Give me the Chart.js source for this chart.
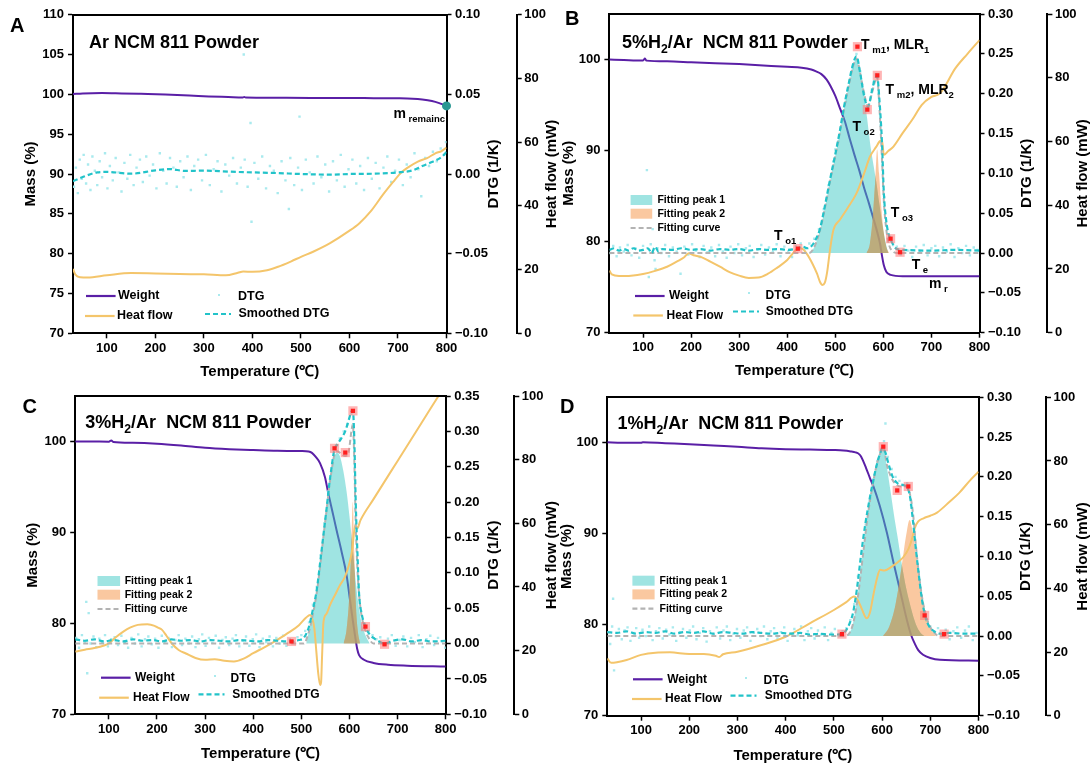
<!DOCTYPE html>
<html lang="en">
<head>
<meta charset="utf-8">
<title>TG / DTG / heat flow of NCM 811 powder</title>
<script src="https://cdn.jsdelivr.net/npm/chart.js@4.4.1/dist/chart.umd.min.js"></script>
<style>
  html, body { margin: 0; padding: 0; background: #fff; }
  #sheet { position: relative; width: 1092px; height: 767px; overflow: hidden; }
  #sheet canvas { position: absolute; }
</style>
</head>
<body>
<div id="sheet">
  <canvas id="cA" width="600" height="380" style="left:0;top:0"></canvas>
  <canvas id="cC" width="600" height="387" style="left:0;top:380px"></canvas>
  <canvas id="cB" width="546" height="380" style="left:546px;top:0"></canvas>
  <canvas id="cD" width="546" height="387" style="left:546px;top:380px"></canvas>
</div>
<script>
// ---- axis ticks ----
const TEMP_TICKS = [100, 200, 300, 400, 500, 600, 700, 800];
const HEAT_TICKS = [0, 20, 40, 60, 80, 100];
const MASS_TICKS_AR = [70, 75, 80, 85, 90, 95, 100, 105, 110];
const MASS_TICKS_H2 = [70, 80, 90, 100];
const DTG_TICKS_AR = [-0.1, -0.05, 0, 0.05, 0.1];
const DTG_TICKS_030 = [-0.1, -0.05, 0, 0.05, 0.1, 0.15, 0.2, 0.25, 0.3];
const DTG_TICKS_035 = [-0.1, -0.05, 0, 0.05, 0.1, 0.15, 0.2, 0.25, 0.3, 0.35];

// ---- A: Ar atmosphere  [temperature, value] ----
const weightA = [[30,100.05],[50,100.12],[90,100.17],[130,100.12],[170,100.06],[220,99.98],[270,99.86],[310,99.74],[350,99.66],[380,99.6],[383,99.68],[386,99.6],[420,99.58],[470,99.56],[520,99.55],[597,99.55],[650,99.52],[700,99.5],[730,99.45],[750,99.35],[770,99.16],[785,98.9],[800,98.55]];
const heatA = [[30,20.2],[35,18.4],[45,17.6],[60,17.5],[100,18.2],[150,18.9],[200,18.8],[250,18.6],[300,18.5],[345,18.2],[370,19],[381,19.4],[400,19.3],[430,19.8],[453,20.9],[480,22.6],[500,24],[525,25.6],[560,28.3],[597,31.9],[620,34.5],[645,38.5],[669,43.5],[690,47.5],[705,50.2],[720,52],[741,53.9],[760,55],[777,56.5],[790,57.2],[800,58.3]];
const dtgSmoothA = [[30,-0.0046],[50,-0.0019],[80,0.001],[100,0.0013],[150,0.0002],[200,0.0023],[230,0.0031],[260,0.0019],[300,0.0021],[350,0.0015],[400,0.001],[450,0.0006],[500,0],[560,-0.0004],[600,0],[650,0.0002],[700,0.001],[730,0.0023],[750,0.005],[770,0.0075],[790,0.0107],[800,0.0138]];
const dtgRawA = [[32,-0.008],[36,0.004],[40,-0.012],[44,0.009],[48,-0.003],[52,0.012],[57,-0.006],[61,0.006],[66,-0.01],[70,0.011],[75,0.002],[80,-0.007],[85,0.008],[90,-0.002],[96,0.013],[101,-0.009],[106,0.005],[112,-0.004],[118,0.01],[124,0.001],[130,-0.011],[136,0.007],[142,-0.003],[148,0.012],[155,-0.007],[161,0.004],[168,0.009],[174,-0.005],[181,0.011],[188,-0.001],[195,0.006],[202,-0.009],[209,0.013],[216,0.002],[223,-0.006],[230,0.01],[237,0.004],[244,-0.008],[251,0.008],[258,-0.002],[266,0.011],[273,-0.01],[280,0.005],[288,0.009],[296,-0.004],[304,0.012],[312,-0.007],[320,0.003],[328,0.008],[336,-0.011],[344,0.006],[352,-0.001],[360,0.01],[368,-0.006],[376,0.004],[382,0.075],[384,0.009],[390,-0.008],[396,0.032],[398,-0.03],[404,0.007],[412,-0.003],[420,0.011],[428,-0.009],[436,0.005],[444,0.002],[452,-0.012],[460,0.008],[468,-0.004],[475,-0.022],[478,0.01],[486,-0.007],[494,0.004],[497,0.036],[502,-0.01],[510,0.009],[518,0.001],[526,-0.006],[534,0.011],[542,-0.002],[550,0.006],[558,-0.011],[566,0.008],[574,-0.004],[582,0.012],[590,-0.008],[598,0.003],[606,0.009],[614,-0.006],[622,0.005],[630,-0.01],[638,0.01],[646,-0.003],[654,0.007],[662,-0.009],[670,0.004],[678,0.011],[686,-0.005],[694,0.002],[702,0.009],[710,-0.007],[718,0.006],[726,-0.002],[734,0.013],[742,0.003],[748,-0.014],[756,0.01],[764,0.005],[772,0.014],[780,0.008],[788,0.016],[795,0.012],[799,0.02]];
const remainA = [[800,98.55]];

// ---- B: 5% H2/Ar ----
const weightB = [[30,100],[60,99.95],[100,99.9],[104,100.1],[107,99.88],[150,99.8],[200,99.7],[250,99.6],[300,99.5],[350,99.35],[400,99.2],[430,99.1],[450,98.9],[460,98.7],[471,98.4],[482,97.8],[490,97.1],[500,96],[510,94.6],[520,93.2],[530,91.3],[540,89.5],[550,87.8],[560,85.9],[570,84.2],[580,82.4],[588,80.9],[593,79.8],[597,78.5],[601,77.4],[606,76.7],[615,76.35],[640,76.2],[700,76.2],[800,76.2]];
const heatB = [[30,19.5],[35,18.3],[50,17.8],[75,17.9],[100,18.4],[125,19.4],[150,20.7],[170,22.3],[185,23.6],[195,24.9],[205,24.3],[220,23.8],[240,22.3],[260,20.7],[280,19],[300,17.9],[320,17.2],[340,17.3],[360,18.5],[380,20.5],[400,22.8],[410,24.6],[420,26.2],[430,26.4],[440,24.9],[452,21.8],[462,18.5],[468,16],[473,15],[478,15.6],[483,19],[489,26],[496,32.2],[510,35.5],[525,39],[544,43.7],[560,50],[572,55.2],[585,58.3],[592,60],[597,60.5],[601,55.8],[610,57],[621,58.4],[640,62.6],[660,66.8],[680,71.5],[700,74],[718,75.1],[750,83],[775,87.5],[800,91.8]];
const dtgSmoothB = [[30,0.004],[40,0.006],[50,0.003],[60,0.005],[70,0.003],[80,0.006],[90,0.003],[100,0.004],[110,0.006],[118,0.0],[125,0.008],[132,0.002],[140,0.005],[160,0.004],[180,0.006],[200,0.004],[220,0.005],[240,0.003],[260,0.005],[280,0.004],[300,0.005],[320,0.003],[340,0.005],[360,0.004],[380,0.005],[400,0.004],[415,0.005],[422,0.006],[432,0.008],[442,0.006],[451,0.009],[460,0.018],[468,0.03],[478,0.058],[489,0.092],[500,0.124],[510,0.155],[518,0.183],[527,0.21],[536,0.235],[544,0.247],[552,0.225],[560,0.197],[568,0.183],[576,0.203],[582,0.218],[587,0.222],[592,0.19],[597,0.14],[601,0.075],[606,0.04],[610,0.026],[615,0.017],[622,0.009],[628,0.005],[640,0.004],[700,0.003],[750,0.004],[800,0.003]];
const dtgRawB = [[32,0.0],[38,0.009],[45,-0.004],[52,0.007],[60,0.002],[68,0.01],[76,-0.003],[84,0.006],[92,-0.006],[100,0.009],[108,0.104],[112,-0.03],[116,0.011],[120,0.03],[124,-0.009],[126,-0.02],[130,0.006],[138,0.0],[146,0.01],[154,-0.004],[162,0.007],[170,0.002],[178,-0.026],[186,0.008],[194,-0.002],[202,0.011],[210,0.003],[218,-0.005],[226,0.009],[234,0.001],[242,0.007],[250,-0.004],[258,0.01],[266,0.002],[274,-0.006],[282,0.008],[290,0.0],[298,0.011],[306,-0.003],[314,0.006],[322,0.009],[330,-0.005],[338,0.004],[346,0.01],[354,-0.002],[362,0.007],[370,0.001],[378,0.011],[386,-0.004],[394,0.008],[402,0.002],[410,-0.005],[418,0.009],[428,0.012],[436,0.004],[446,0.012],[456,0.018],[466,0.03],[476,0.055],[486,0.085],[496,0.115],[500,0.13],[506,0.14],[516,0.175],[522,0.19],[526,0.205],[536,0.232],[544,0.25],[548,0.26],[552,0.228],[560,0.2],[568,0.185],[576,0.205],[580,0.215],[584,0.224],[590,0.2],[594,0.16],[598,0.11],[602,0.07],[606,0.035],[612,0.02],[620,0.01],[628,0.008],[636,-0.002],[644,0.009],[652,0.003],[660,-0.005],[668,0.008],[676,0.001],[684,0.01],[692,-0.003],[700,0.006],[708,0.009],[716,-0.004],[724,0.007],[732,0.002],[740,0.011],[748,-0.005],[756,0.006],[764,0.0],[772,0.009],[780,-0.003],[788,0.007],[796,0.004]];
const peak1B = [[448,0],[455,0.006],[468,0.028],[478,0.055],[489,0.09],[500,0.122],[510,0.153],[518,0.18],[527,0.207],[536,0.232],[543,0.243],[550,0.232],[558,0.205],[566,0.17],[573,0.135],[579,0.112],[585,0.09],[592,0.06],[598,0.035],[604,0.015],[610,0]];
const peak2B = [[565,0],[572,0.012],[578,0.045],[583,0.09],[587,0.13],[591,0.1],[596,0.055],[601,0.025],[606,0.008],[612,0]];
const fitB = [[30,0],[445,0],[455,0.006],[468,0.028],[478,0.055],[489,0.09],[500,0.122],[510,0.153],[518,0.18],[527,0.207],[536,0.232],[544,0.244],[552,0.225],[560,0.2],[568,0.185],[576,0.2],[582,0.214],[587,0.22],[592,0.18],[597,0.12],[601,0.065],[606,0.03],[612,0.01],[620,0.002],[630,0],[800,0]];
const markB = [[422,0.0055],[546,0.259],[566.6,0.18],[587.4,0.223],[615,0.018],[634.7,0.001]];

// ---- C: 3% H2/Ar ----
const weightC = [[30,100],[60,100],[100,99.98],[105,100.12],[109,99.95],[150,99.85],[200,99.75],[250,99.55],[300,99.3],[350,99.15],[400,99.05],[450,98.97],[500,98.95],[515,98.9],[522,98.75],[530,98.3],[539,97.6],[549,96.1],[556,94.3],[565,92.2],[573,90.3],[584,87.8],[594,85.3],[601,82.6],[607,80.3],[612,78.5],[616,77.2],[620,76.5],[630,76],[650,75.65],[680,75.45],[720,75.35],[800,75.25]];
const heatC = [[30,19.7],[50,20.3],[70,20.8],[90,21.6],[100,22.3],[115,24.3],[130,26],[145,27.3],[160,28.1],[180,28.3],[195,27.8],[202,27.2],[210,26.6],[220,24.6],[230,22.4],[245,20.2],[260,19.1],[280,17.7],[300,17.1],[320,17.3],[340,16.8],[360,16.6],[380,17.5],[400,19.2],[425,21.2],[450,23.4],[475,25.8],[495,28],[510,30.4],[518,31.2],[522,30.4],[527,27],[531,20],[535,13],[539,9.2],[541,10],[543,18],[546,29],[552,31.5],[560,34.5],[570,37.5],[580,40.5],[591,43.3],[600,47.5],[606,52],[612,59.5],[616,58.4],[623,61],[650,67.6],[700,79.6],[750,91.6],[785,100],[800,103.6]];
const dtgSmoothC = [[30,0.006],[50,0.004],[70,0.006],[90,0.003],[110,0.005],[130,0.003],[150,0.006],[170,0.004],[190,0.005],[210,0.003],[230,0.006],[250,0.004],[270,0.005],[290,0.003],[310,0.005],[330,0.004],[350,0.003],[370,0.005],[390,0.004],[410,0.003],[430,0.005],[450,0.004],[470,0.003],[480,0.003],[495,0.005],[505,0.008],[515,0.022],[522,0.042],[532,0.076],[540,0.12],[547,0.16],[553,0.194],[558,0.225],[563,0.25],[568,0.272],[575,0.282],[583,0.29],[591,0.3],[598,0.315],[604,0.328],[607,0.33],[610,0.29],[613,0.2],[617,0.12],[620,0.07],[626,0.04],[633,0.024],[642,0.013],[652,0.007],[662,0.003],[673,0.0],[690,0.004],[710,0.006],[730,0.003],[750,0.005],[770,0.003],[800,0.004]];
const dtgRawC = [[32,0.008],[38,-0.006],[44,0.012],[50,0.002],[53,0.059],[55,-0.042],[58,0.043],[62,0.0],[68,0.01],[74,-0.005],[80,0.007],[86,0.001],[92,0.012],[98,-0.004],[105,0.006],[112,0.009],[119,-0.002],[126,0.011],[133,0.003],[140,-0.006],[147,0.008],[154,0.0],[161,0.013],[168,-0.004],[175,0.006],[182,0.01],[189,-0.001],[196,0.007],[203,-0.006],[210,0.011],[217,0.002],[224,0.008],[231,-0.005],[238,0.005],[245,0.012],[252,-0.002],[259,0.007],[266,0.0],[273,0.01],[280,-0.005],[287,0.006],[294,0.013],[301,-0.003],[308,0.008],[315,0.001],[322,0.011],[329,-0.006],[336,0.005],[343,0.009],[350,-0.002],[357,0.007],[364,0.012],[371,-0.004],[378,0.004],[385,0.01],[392,-0.003],[399,0.006],[406,0.013],[413,-0.005],[420,0.007],[427,0.002],[434,0.01],[441,-0.004],[448,0.008],[455,0.0],[462,0.011],[469,-0.003],[476,0.006],[484,0.002],[492,0.009],[500,0.012],[508,0.018],[516,0.03],[524,0.055],[532,0.08],[540,0.125],[548,0.17],[556,0.215],[564,0.255],[572,0.28],[580,0.29],[588,0.3],[596,0.31],[604,0.325],[612,0.19],[618,0.08],[624,0.045],[632,0.028],[640,0.018],[648,0.012],[656,0.006],[664,0.009],[672,-0.002],[680,0.007],[688,0.012],[696,-0.003],[704,0.005],[712,0.01],[720,-0.004],[728,0.008],[736,0.002],[744,0.012],[752,-0.005],[760,0.006],[768,0.011],[776,-0.002],[784,0.008],[792,0.003],[799,-0.006]];
const peak1C = [[510,0],[515,0.015],[522,0.035],[532,0.072],[540,0.115],[547,0.158],[553,0.192],[558,0.222],[563,0.245],[568,0.262],[574,0.27],[580,0.265],[587,0.245],[594,0.215],[600,0.18],[606,0.14],[612,0.095],[618,0.058],[625,0.03],[633,0.012],[642,0]];
const peak2C = [[588,0],[594,0.02],[599,0.06],[603,0.12],[607,0.2],[610,0.13],[613,0.06],[617,0.02],[622,0]];
const fitC = [[30,0],[505,0],[515,0.015],[522,0.035],[532,0.072],[540,0.115],[547,0.158],[553,0.192],[558,0.222],[563,0.245],[568,0.265],[575,0.272],[583,0.268],[591,0.265],[598,0.27],[604,0.3],[607,0.31],[610,0.26],[613,0.17],[617,0.1],[622,0.055],[630,0.025],[640,0.008],[650,0],[800,0]];
const markC = [[479.5,0.003],[569,0.276],[591.3,0.27],[607.2,0.329],[633.2,0.024],[672.9,-0.001]];

// ---- D: 1% H2/Ar ----
const weightD = [[30,100.05],[60,100],[100,100],[104,100.05],[150,99.95],[200,99.85],[250,99.7],[300,99.56],[350,99.4],[400,99.3],[450,99.25],[500,99.2],[520,99.15],[535,99.05],[545,98.95],[550,98.85],[555,98.6],[560,98.1],[567,97.2],[575,96.1],[582,95.2],[595,93.1],[610,90.1],[624,86.75],[638,83.6],[652,80.4],[660,78.9],[668,77.9],[675,77.2],[685,76.7],[700,76.35],[720,76.15],[800,76.05]];
const heatD = [[30,18],[38,16.6],[50,16.8],[70,17.5],[100,19.1],[130,19.8],[160,19.9],[200,19.4],[230,19.4],[255,18.8],[262,18.4],[270,19.3],[300,20.1],[350,22.2],[400,24.8],[450,29],[500,33.2],[525,35.6],[542,37.4],[550,36.2],[558,33.5],[568,30.6],[575,32.5],[582,38],[590,43.5],[596,45.8],[605,45.6],[620,46.8],[635,48.5],[645,50],[655,52.5],[662,55.5],[668,59],[675,61],[686,62],[700,62.8],[714,63.8],[740,67.2],[760,70],[783,74],[800,76.6]];
const dtgSmoothD = [[30,0.005],[50,0.004],[70,0.006],[90,0.003],[110,0.005],[130,0.004],[150,0.006],[170,0.003],[190,0.005],[210,0.004],[230,0.006],[250,0.003],[270,0.005],[290,0.004],[310,0.003],[330,0.005],[350,0.004],[370,0.003],[390,0.004],[410,0.003],[430,0.004],[450,0.002],[470,0.003],[490,0.002],[505,0.002],[516,0.0025],[525,0.007],[532,0.015],[540,0.03],[548,0.06],[556,0.1],[565,0.14],[575,0.175],[585,0.205],[594,0.226],[601,0.236],[606,0.232],[614,0.215],[622,0.2],[632,0.192],[642,0.19],[652,0.187],[658,0.175],[664,0.145],[670,0.11],[676,0.078],[683,0.045],[690,0.024],[698,0.012],[708,0.006],[720,0.003],[740,0.004],[770,0.003],[800,0.003]];
const dtgRawD = [[32,0.005],[36,-0.01],[40,0.012],[42,0.047],[44,-0.043],[48,0.0],[54,0.009],[60,-0.004],[66,0.007],[72,0.011],[78,-0.006],[84,0.004],[90,0.01],[96,-0.002],[103,0.008],[110,0.0],[117,0.012],[124,-0.005],[131,0.006],[138,0.01],[145,-0.003],[152,0.008],[159,0.002],[166,0.011],[173,-0.006],[180,0.005],[187,0.009],[194,-0.002],[201,0.007],[208,0.012],[215,-0.004],[222,0.004],[229,0.01],[236,-0.007],[243,0.006],[250,0.001],[257,0.011],[264,-0.003],[271,0.007],[278,0.012],[285,-0.005],[292,0.003],[299,0.009],[306,-0.002],[313,0.007],[320,0.011],[327,-0.006],[334,0.004],[341,0.009],[348,0.0],[355,0.012],[362,-0.004],[369,0.006],[376,0.01],[383,-0.003],[390,0.005],[397,0.011],[404,-0.006],[411,0.003],[418,0.009],[425,0.001],[432,0.012],[439,-0.005],[446,0.006],[453,0.01],[460,-0.003],[467,0.007],[474,0.002],[481,0.011],[488,-0.005],[495,0.004],[502,0.009],[510,0.0],[518,0.006],[526,0.01],[534,0.02],[542,0.04],[550,0.075],[558,0.105],[566,0.14],[574,0.17],[582,0.195],[590,0.22],[598,0.235],[604,0.245],[607,0.267],[612,0.225],[620,0.21],[628,0.2],[636,0.195],[644,0.19],[652,0.192],[660,0.165],[668,0.12],[676,0.08],[684,0.042],[692,0.02],[700,0.012],[708,0.006],[716,0.01],[724,0.001],[732,0.008],[740,-0.004],[748,0.006],[756,0.011],[764,-0.002],[772,0.007],[780,0.012],[788,-0.005],[796,0.004]];
const peak1D = [[528,0],[538,0.012],[548,0.045],[558,0.095],[568,0.145],[578,0.185],[588,0.215],[596,0.23],[603,0.235],[610,0.212],[618,0.18],[624,0.155],[632,0.125],[641,0.09],[650,0.06],[660,0.035],[670,0.015],[680,0.004],[688,0]];
const peak2D = [[602,0],[615,0.012],[628,0.04],[640,0.085],[650,0.127],[657,0.146],[664,0.13],[672,0.095],[682,0.055],[692,0.025],[702,0.008],[712,0]];
const fitD = [[30,0],[520,0],[530,0.002],[540,0.016],[550,0.05],[560,0.1],[570,0.15],[580,0.188],[590,0.218],[598,0.232],[603,0.236],[610,0.215],[620,0.198],[630,0.19],[642,0.188],[652,0.188],[658,0.178],[664,0.155],[670,0.115],[676,0.08],[684,0.045],[692,0.024],[702,0.009],[712,0.002],[720,0],[800,0]];
const markD = [[516.7,0.0025],[602.5,0.238],[631.4,0.183],[654.4,0.188],[688.3,0.026],[728.7,0.0025]];

// ---- styling ----
const FAMILY = '"Liberation Sans", Arial, Helvetica, sans-serif';
const WEIGHT = '#5a1fa6';
const HEAT = '#f4c56b';
const SMOOTH = '#22c3c9';
const DOT = '#a9eaee';
const FIT = '#b3b3b3';
const PEAK1 = 'rgba(60,200,196,0.49)';
const PEAK2 = 'rgba(245,145,65,0.5)';
const OVERLAP = 'rgba(178,162,112,0.6)';
const TEAL = '#2a9893';

const font = size => 'bold ' + size + 'px ' + FAMILY;
const xy = pairs => pairs.map(([x, y]) => ({ x, y }));
const dtgLabel = v => (v < 0 ? '\u2212' : '') + Math.abs(v).toFixed(2);

// draws text made of normal and subscript pieces, returns its width
function richText(ctx, x, y, parts, size) {
  let cx = x;
  ctx.textAlign = 'left';
  ctx.textBaseline = 'alphabetic';
  for (const [txt, kind] of parts) {
    const sub = kind === 'sub';
    ctx.font = font(sub ? size * 0.68 : size);
    ctx.fillText(txt, cx, sub ? y + size * 0.28 : y);
    cx += ctx.measureText(txt).width;
  }
  return cx - x;
}

function vTitle(ctx, text, x, y, size) {
  ctx.save();
  ctx.translate(x, y);
  ctx.rotate(-Math.PI / 2);
  ctx.font = font(size);
  ctx.textAlign = 'center';
  ctx.textBaseline = 'middle';
  ctx.fillText(text, 0, 0);
  ctx.restore();
}

function drawLegend(ctx, items) {
  for (const it of items) {
    ctx.save();
    if (it.kind === 'line' || it.kind === 'dash' || it.kind === 'gray') {
      ctx.strokeStyle = it.color;
      ctx.lineWidth = 2.2;
      ctx.setLineDash(it.kind === 'line' ? [] : [5, 3]);
      ctx.beginPath();
      ctx.moveTo(it.x, it.y);
      ctx.lineTo(it.x + it.w, it.y);
      ctx.stroke();
    } else if (it.kind === 'box') {
      ctx.fillStyle = it.color;
      ctx.fillRect(it.x, it.y - 5, it.w, 10);
    } else if (it.kind === 'dot') {
      ctx.fillStyle = DOT;
      ctx.fillRect(it.x - 1, it.y - 1, 2, 2);
    }
    ctx.restore();
    ctx.fillStyle = '#000';
    ctx.font = font(it.size);
    ctx.textAlign = 'left';
    ctx.textBaseline = 'middle';
    ctx.fillText(it.label, it.tx, it.ty !== undefined ? it.ty : it.y);
  }
}

// bottom legend block (Weight / Heat flow / DTG / Smoothed DTG)
function mainLegend(o) {
  return [
    { kind: 'line', color: WEIGHT, x: o.wx, w: 29.6, y: o.wy, label: 'Weight', tx: o.wtx, size: o.size },
    { kind: 'line', color: HEAT, x: o.hx, w: 29.6, y: o.hy, label: o.heatLabel, tx: o.htx, size: o.size },
    { kind: 'dot', x: o.dx, y: o.dy, label: 'DTG', tx: o.dtx, ty: o.dty, size: o.size },
    { kind: 'dash', color: SMOOTH, x: o.sx, w: 26, y: o.sy, label: 'Smoothed DTG', tx: o.stx, size: o.size }
  ];
}
// fitting legend block
function fitLegend(x, w, tx, y0) {
  return [
    { kind: 'box', color: PEAK1, x, w, y: y0, label: 'Fitting peak 1', tx, size: 10.5 },
    { kind: 'box', color: PEAK2, x, w, y: y0 + 13.7, label: 'Fitting peak 2', tx, size: 10.5 },
    { kind: 'gray', color: FIT, x, w, y: y0 + 28, label: 'Fitting curve', tx, size: 10.5 }
  ];
}

const T = (s) => [['T'], [' ' + s, 'sub']];

// per-canvas text, legend and label layout
const decor = {
  cA: {
    letter: [10, 32, 'A'],
    title: [89, 48, [['Ar NCM 811 Powder']]],
    vTitles: [['Mass (%)', 31], ['DTG (1/K)', 493.5], ['Heat flow (mW)', 551.5]],
    xTitleY: 371.7,
    legend: mainLegend({ wx: 86, wy: 296, wtx: 118, hx: 85, hy: 316, htx: 117, heatLabel: 'Heat flow',
      dx: 219, dy: 295, dtx: 238, dty: 297, sx: 205, sy: 314, stx: 238.5, size: 12.5 }),
    notes: [{ axis: 'mass', t: 690.8, v: 97.0, size: 14, parts: [['m'], [' remainc', 'sub']] }]
  },
  cB: {
    letter: [19, 25, 'B'],
    title: [76, 47.7, [['5%H'], ['2', 'sub'], ['/Ar  NCM 811 Powder']]],
    vTitles: [['Mass (%)', 23], ['DTG (1/K)', 480.6], ['Heat flow (mW)', 537]],
    xTitleY: 370.7,
    legend: mainLegend({ wx: 89, wy: 296, wtx: 123, hx: 87.3, hy: 315.5, htx: 120.5, heatLabel: 'Heat Flow',
      dx: 203, dy: 293, dtx: 219.5, dty: 296, sx: 187, sy: 311.5, stx: 219.7, size: 12 })
      .concat(fitLegend(84.6, 21.6, 111.4, 200)),
    notes: [
      { axis: 'dtg', t: 553.5, v: 0.256, size: 14, parts: T('m1').concat([[', MLR'], ['1', 'sub']]) },
      { axis: 'dtg', t: 604.5, v: 0.2, size: 14, parts: T('m2').concat([[', MLR'], ['2', 'sub']]) },
      { axis: 'dtg', t: 535.6, v: 0.153, size: 14, parts: T('o2') },
      { axis: 'dtg', t: 615.3, v: 0.045, size: 14, parts: T('o3') },
      { axis: 'dtg', t: 372.5, v: 0.0166, size: 14, parts: T('o1') },
      { axis: 'dtg', t: 658.8, v: -0.0205, size: 14, parts: T('e') },
      { axis: 'dtg', t: 695, v: -0.0443, size: 14, parts: [['m'], [' r', 'sub']] }
    ]
  },
  cC: {
    letter: [22.6, 32.7, 'C'],
    title: [85.3, 48.3, [['3%H'], ['2', 'sub'], ['/Ar  NCM 811 Powder']]],
    vTitles: [['Mass (%)', 33], ['DTG (1/K)', 493.6], ['Heat flow (mW)', 551.5]],
    xTitleY: 374,
    legend: mainLegend({ wx: 101, wy: 297.7, wtx: 135, hx: 99.2, hy: 317.7, htx: 133, heatLabel: 'Heat Flow',
      dx: 215, dy: 296, dtx: 230.5, dty: 299, sx: 198.5, sy: 314.3, stx: 232.3, size: 12 })
      .concat(fitLegend(97.5, 22.6, 124.7, 201)),
    notes: []
  },
  cD: {
    letter: [14, 33, 'D'],
    title: [71.4, 49, [['1%H'], ['2', 'sub'], ['/Ar  NCM 811 Powder']]],
    vTitles: [['Mass (%)', 21], ['DTG (1/K)', 479.7], ['Heat flow (mW)', 537]],
    xTitleY: 375.7,
    legend: mainLegend({ wx: 87, wy: 299.3, wtx: 121.2, hx: 86, hy: 319, htx: 119.1, heatLabel: 'Heat Flow',
      dx: 200, dy: 298, dtx: 217.6, dty: 300.7, sx: 184.5, sy: 315.7, stx: 218.7, size: 12 })
      .concat(fitLegend(86.4, 22.2, 113.5, 200.7)),
    notes: []
  }
};

// closes a fill outline of a line element down to the zero line
function areaPath(ctx, line, y0) {
  const pts = line.points;
  ctx.beginPath();
  line.path(ctx);
  ctx.lineTo(pts[pts.length - 1].x, y0);
  ctx.lineTo(pts[0].x, y0);
  ctx.closePath();
}

const decorPlugin = {
  id: 'decor',
  afterDatasetDraw(chart, args) {
    const ds = chart.data.datasets[args.index];
    if (ds.overlapWith === undefined) return;
    const under = chart.getDatasetMeta(ds.overlapWith).dataset;
    const over = args.meta.dataset;
    const y0 = chart.scales.dtg.getPixelForValue(0);
    const ctx = chart.ctx;
    ctx.save();
    areaPath(ctx, under, y0);
    ctx.clip();
    areaPath(ctx, over, y0);
    ctx.fillStyle = OVERLAP;
    ctx.fill();
    ctx.restore();
  },
  afterDraw(chart) {
    const d = decor[chart.canvas.id];
    const { ctx, chartArea: a, scales } = chart;
    ctx.save();
    // top edge of the frame
    ctx.strokeStyle = '#000';
    ctx.lineWidth = 2;
    ctx.beginPath();
    ctx.moveTo(a.left - 1, Math.round(a.top));
    ctx.lineTo(a.right + 1, Math.round(a.top));
    ctx.stroke();

    ctx.fillStyle = '#000';
    ctx.font = font(20);
    ctx.textAlign = 'left';
    ctx.textBaseline = 'alphabetic';
    ctx.fillText(d.letter[2], d.letter[0], d.letter[1]);
    richText(ctx, d.title[0], d.title[1], d.title[2], 18);

    const midY = (a.top + a.bottom) / 2;
    for (const [text, x] of d.vTitles) vTitle(ctx, text, x, midY, 15);
    ctx.font = font(15);
    ctx.textAlign = 'center';
    ctx.textBaseline = 'middle';
    ctx.fillText('Temperature (\u2103)', (a.left + a.right) / 2, d.xTitleY);

    drawLegend(ctx, d.legend);

    ctx.fillStyle = '#000';
    for (const n of d.notes) {
      const x = scales.x.getPixelForValue(n.t);
      const y = scales[n.axis].getPixelForValue(n.v);
      richText(ctx, x, y, n.parts, n.size);
    }
    ctx.restore();
  }
};

function axis(position, min, max, ticks, size, pad, fmt) {
  return {
    type: 'linear', position, min, max,
    afterBuildTicks: s => { s.ticks = ticks.map(v => ({ value: v })); },
    afterFit: s => { if (position === 'bottom') s.height = size; else s.width = size; },
    ticks: { font: { family: FAMILY, size: 13, weight: 'bold' }, color: '#000', padding: pad,
      autoSkip: false, maxRotation: 0, callback: fmt || (v => v) },
    grid: { drawOnChartArea: false, drawTicks: true, tickLength: 5, tickWidth: 1.5, tickColor: '#000' },
    border: { display: true, color: '#000', width: 2 }
  };
}

function lineSet(label, pairs, axisId, color, order, extra) {
  return Object.assign({
    label, data: xy(pairs), yAxisID: axisId, borderColor: color, borderWidth: 2,
    pointRadius: 0, cubicInterpolationMode: 'monotone', fill: false, order
  }, extra || {});
}

function buildDatasets(p) {
  const sets = [
    lineSet('Weight', p.weight, 'mass', WEIGHT, 9),
    lineSet('DTG', p.raw, 'dtg', DOT, 8, { showLine: false, pointStyle: 'rect', pointRadius: 1.7,
      pointBackgroundColor: DOT, pointBorderWidth: 0 }),
    lineSet('Heat flow', p.heat, 'heat', HEAT, 5),
    lineSet('Smoothed DTG', p.smooth, 'dtg', SMOOTH, 3, { borderDash: [5, 3], borderWidth: 2.2 })
  ];
  if (p.peak1) {
    sets.push(lineSet('Fitting peak 1', p.peak1, 'dtg', 'rgba(0,0,0,0)', 7,
      { fill: 'origin', backgroundColor: PEAK1, borderWidth: 0 }));
    sets.push(lineSet('Fitting peak 2', p.peak2, 'dtg', 'rgba(0,0,0,0)', 6,
      { fill: 'origin', backgroundColor: PEAK2, borderWidth: 0, overlapWith: sets.length - 1 }));
    sets.push(lineSet('Fitting curve', p.fit, 'dtg', FIT, 4, { borderDash: [5, 3], borderWidth: 2 }));
  }
  if (p.marks) {
    sets.push(lineSet('halo', p.marks, 'dtg', 'rgba(0,0,0,0)', 2, { showLine: false, pointStyle: 'rect',
      pointRadius: 6.5, pointBackgroundColor: 'rgba(255,120,120,0.55)', pointBorderWidth: 0, clip: false }));
    sets.push(lineSet('mark', p.marks, 'dtg', 'rgba(0,0,0,0)', 1, { showLine: false, pointStyle: 'rect',
      pointRadius: 3, pointBackgroundColor: '#ff1f1f', pointBorderWidth: 0, clip: false }));
  }
  if (p.remain) {
    sets.push(lineSet('m remain', p.remain, 'mass', 'rgba(0,0,0,0)', 0, { showLine: false,
      pointRadius: 4.5, pointBackgroundColor: TEAL, pointBorderWidth: 0, clip: false }));
  }
  return sets;
}

const panels = [
  { id: 'cA', padTop: 14.7, padRight: 33.3, leftW: 73, dtgW: 70.2, heatW: 50, xH: 46.7,
    mass: [70, 110, MASS_TICKS_AR], dtg: [-0.1, 0.1, DTG_TICKS_AR],
    weight: weightA, heat: heatA, smooth: dtgSmoothA, raw: dtgRawA, remain: remainA },
  { id: 'cB', padTop: 14, padRight: 0, leftW: 63.4, dtgW: 67.9, heatW: 44.6, xH: 47.3,
    mass: [70, 105, MASS_TICKS_H2], dtg: [-0.1, 0.3, DTG_TICKS_030],
    weight: weightB, heat: heatB, smooth: dtgSmoothB, raw: dtgRawB,
    peak1: peak1B, peak2: peak2B, fit: fitB, marks: markB },
  { id: 'cC', padTop: 16, padRight: 35.7, leftW: 75.2, dtgW: 68.6, heatW: 50, xH: 52.7,
    mass: [70, 105, MASS_TICKS_H2], dtg: [-0.1, 0.35, DTG_TICKS_035],
    weight: weightC, heat: heatC, smooth: dtgSmoothC, raw: dtgRawC,
    peak1: peak1C, peak2: peak2C, fit: fitC, marks: markC },
  { id: 'cD', padTop: 17.3, padRight: 0, leftW: 61.3, dtgW: 67.5, heatW: 46, xH: 51.3,
    mass: [70, 105, MASS_TICKS_H2], dtg: [-0.1, 0.3, DTG_TICKS_030],
    weight: weightD, heat: heatD, smooth: dtgSmoothD, raw: dtgRawD,
    peak1: peak1D, peak2: peak2D, fit: fitD, marks: markD }
];

for (const p of panels) {
  new Chart(document.getElementById(p.id), {
    type: 'line',
    data: { datasets: buildDatasets(p) },
    options: {
      responsive: false,
      animation: false,
      events: [],
      layout: { padding: { top: p.padTop, right: p.padRight, left: 0, bottom: 0 } },
      plugins: { legend: { display: false }, tooltip: { enabled: false } },
      scales: {
        x: axis('bottom', 30, 800, TEMP_TICKS, p.xH, 2),
        mass: axis('left', p.mass[0], p.mass[1], p.mass[2], p.leftW, 4),
        dtg: axis('right', p.dtg[0], p.dtg[1], p.dtg[2], p.dtgW, 3.5, dtgLabel),
        heat: axis('right', 0, 100, HEAT_TICKS, p.heatW, 2.5)
      }
    },
    plugins: [decorPlugin]
  });
}
</script>
</body>
</html>
